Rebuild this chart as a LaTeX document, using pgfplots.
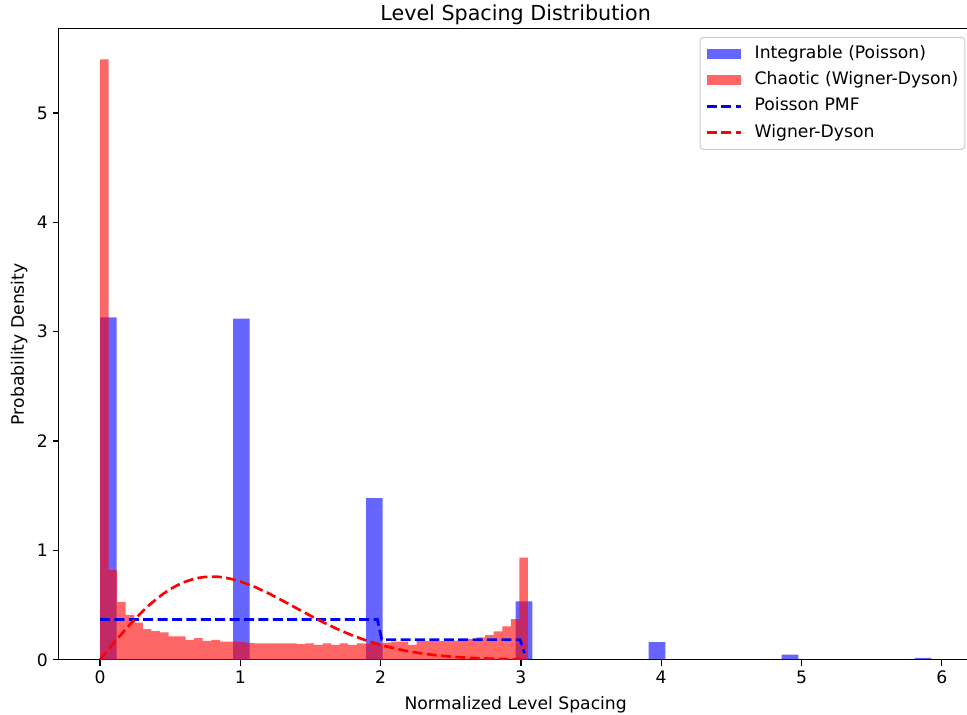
\documentclass[border=0pt]{standalone}
\usepackage{fontspec}
\setmainfont{DejaVu Sans}
\usepackage{pgfplots}
\pgfplotsset{compat=1.18}
\pgfplotsset{
  barleg/.style={legend image code/.code={\fill[##1, sharp corners] (0pt,-4pt) rectangle (26pt,4pt);}},
  lineleg/.style={legend image code/.code={\draw[##1, sharp corners] (0pt,0pt) -- (26pt,0pt);}},
}
\newcommand{\lbl}{\fontsize{12.9}{15}\selectfont}
\begin{document}
\begin{tikzpicture}
\begin{axis}[
  scale only axis,
  width=685.8pt, height=473.3pt,
  xmin=-0.296, xmax=6.221, ymin=0, ymax=5.77,
  axis line style={line width=1.03pt},
  every tick/.style={line width=1.03pt, black},
  tick align=outside,
  tick pos=left,
  major tick length=4.5pt,
  xtick={0,1,2,3,4,5,6}, ytick={0,1,2,3,4,5},
  ticklabel style={font=\lbl},
  /pgf/number format/assume math mode=true,
  title={Level Spacing Distribution},
  title style={font=\fontsize{15.5}{18}\selectfont, at={(axis description cs:0.5,1)}, anchor=base, yshift=0.2pt},
  xlabel={Normalized Level Spacing},
  xlabel style={font=\lbl, at={(axis description cs:0.5,0)}, anchor=base, yshift=-37.5pt},
  ylabel={Probability Density},
  ylabel style={font=\lbl, at={(axis description cs:-0.0378,0.5)}, anchor=base},
  legend cell align=left,
  legend style={
    at={(axis description cs:1,1)}, anchor=north east, xshift=-5.5pt, yshift=-6pt,
    draw=black!20, line width=0.75pt, rounded corners=2.5pt,
    fill=white, fill opacity=0.8, text opacity=1,
    font=\lbl,
    inner xsep=4pt, inner ysep=5.2pt,
    row sep=5.2pt,
    nodes={inner sep=1pt, text height=9.5pt, text depth=3pt},
    /tikz/every odd column/.append style={column sep=8pt},
  },
]
% Integrable (Poisson) histogram
\addplot[ybar interval, fill=blue, fill opacity=0.6, draw=none, barleg] coordinates {
(0,3.13) (0.1185,0) (0.948,3.12) (1.0665,0) (1.896,1.478) (2.0145,0)
(2.9625,0.533) (3.081,0) (3.9105,0.162) (4.029,0) (4.8585,0.046) (4.977,0)
(5.8065,0.017) (5.925,0)
};
\addlegendentry{Integrable (Poisson)}
% Chaotic (Wigner-Dyson) histogram
\addplot[ybar interval, fill=red, fill opacity=0.6, draw=none, barleg] coordinates {
(0,5.49) (0.061,0.82) (0.122,0.527) (0.183,0.41) (0.244,0.34) (0.305,0.28)
(0.366,0.262) (0.427,0.25) (0.488,0.213) (0.549,0.213) (0.61,0.183) (0.671,0.198)
(0.732,0.172) (0.793,0.183) (0.854,0.165) (0.915,0.165) (0.976,0.162) (1.037,0.155)
(1.098,0.15) (1.159,0.15) (1.22,0.15) (1.281,0.15) (1.342,0.15) (1.403,0.143)
(1.464,0.15) (1.525,0.136) (1.586,0.149) (1.647,0.136) (1.708,0.149) (1.769,0.136)
(1.83,0.149) (1.891,0.145) (1.952,0.145) (2.013,0.158) (2.074,0.165) (2.135,0.167)
(2.196,0.137) (2.257,0.172) (2.318,0.17) (2.379,0.17) (2.44,0.17) (2.501,0.175)
(2.562,0.18) (2.623,0.189) (2.684,0.204) (2.745,0.225) (2.806,0.259) (2.867,0.305)
(2.928,0.372) (2.989,0.935) (3.05,0)
};
\addlegendentry{Chaotic (Wigner-Dyson)}
% Poisson PMF
\addplot[blue, line width=2pt, dash pattern=on 7.5pt off 3.3pt, lineleg] coordinates {
(0,0.368) (1.977,0.368) (2.008,0.184) (2.994,0.184) (3.025,0.061)
};
\addlegendentry{Poisson PMF}
% Wigner-Dyson
\addplot[red, line width=2pt, dash pattern=on 7.5pt off 3.3pt, lineleg] coordinates {
(0,0) (0.05,0.07844) (0.1,0.15585) (0.15,0.23137) (0.2,0.30444) (0.25,0.37384) (0.3,0.43908)
(0.35,0.49932) (0.4,0.55412) (0.45,0.60300) (0.5,0.64538) (0.55,0.68108) (0.6,0.71037)
(0.65,0.73197) (0.7,0.74831) (0.75,0.75769) (0.8,0.76019) (0.85,0.75812) (0.9,0.74831)
(0.95,0.73487) (1.0,0.71619) (1.1,0.66803)
(1.2,0.60831) (1.3,0.54153) (1.4,0.47178) (1.5,0.40251) (1.6,0.33655) (1.7,0.27596)
(1.8,0.22196) (1.9,0.17525) (2.0,0.13576) (2.1,0.10331) (2.2,0.07720) (2.3,0.05669)
(2.4,0.04087) (2.5,0.02899) (2.6,0.02020) (2.7,0.01383) (2.8,0.00931) (2.9,0.00616)
(3.0,0.00401)
};
\addlegendentry{Wigner-Dyson}
\end{axis}
\pgfresetboundingbox
\path ([shift={(-43.9pt,-41.25pt)}]current axis.south west) rectangle ([shift={(-4.35pt,21.6pt)}]current axis.north east);
\end{tikzpicture}
\end{document}
